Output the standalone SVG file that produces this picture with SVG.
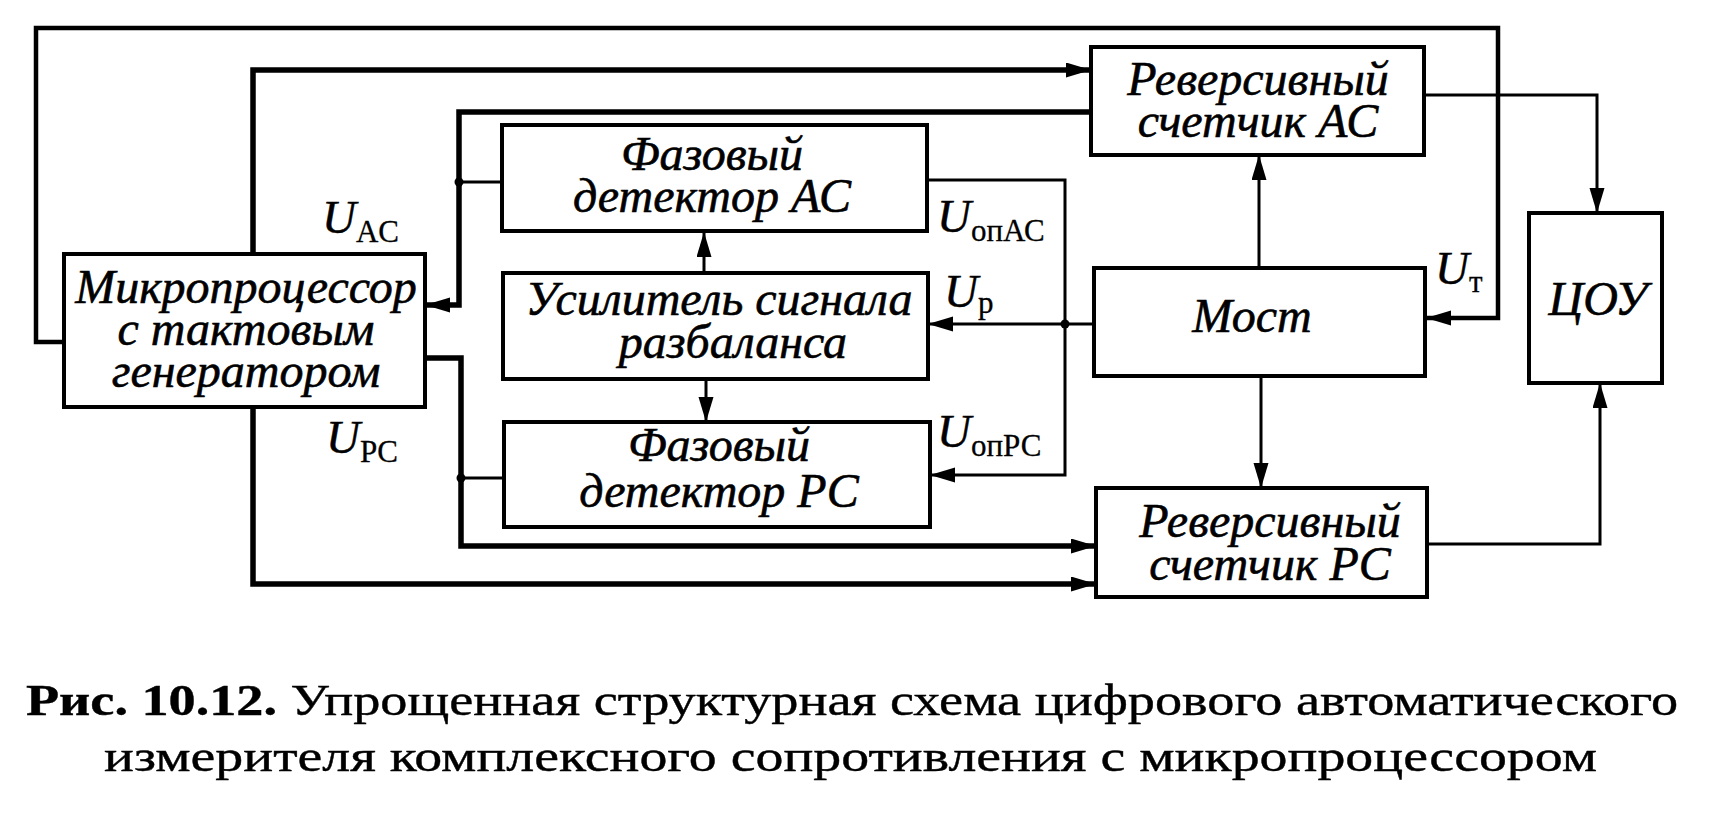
<svg xmlns="http://www.w3.org/2000/svg" width="1734" height="824" viewBox="0 0 1734 824">
<style>
  .box { fill: #fff; stroke: #000; stroke-width: 4; }
  text { font-family: "Liberation Serif", "Times New Roman", serif; fill: #000; }
  .lbl { font-style: italic; font-size: 48px; text-anchor: middle; stroke: #000; stroke-width: 0.6; }
  .u { font-style: italic; font-size: 47px; stroke: #000; stroke-width: 0.5; }
  .sub { font-style: normal; font-size: 31px; stroke-width: 0.3; }
  .cap { font-size: 45px; stroke: #000; stroke-width: 0.4; }
  .thin { fill: none; stroke: #000; stroke-width: 3; }
  .med { fill: none; stroke: #000; stroke-width: 4.5; }
  .thick { fill: none; stroke: #000; stroke-width: 5.5; }
  .arr { marker-end: url(#ah); }
</style>
<defs>
  <marker id="ah" markerUnits="userSpaceOnUse" markerWidth="27" markerHeight="16" refX="25" refY="7.5" orient="auto">
    <path d="M0,0 L25,7.5 L0,15 z" fill="#000"/>
  </marker>
</defs>
<rect width="1734" height="824" fill="#fff"/>
<g id="connectors">
  <polyline class="med arr" points="63,342 36,342 36,28 1498,28 1498,318 1426,318"/>
  <polyline class="thick arr" points="253,254 253,70 1091,70"/>
  <polyline class="thick arr" points="1091,112 459,112 459,305 425,305"/>
  <line class="thin" x1="502" y1="182" x2="459" y2="182"/>
  <polyline class="thick arr" points="425,358 461,358 461,546 1096,546"/>
  <line class="thin" x1="504" y1="478" x2="461" y2="478"/>
  <polyline class="thick arr" points="253,407 253,584 1096,584"/>
  <line class="thin arr" x1="704" y1="273" x2="704" y2="232"/>
  <line class="thin arr" x1="706" y1="379" x2="706" y2="422"/>
  <line class="thin arr" x1="1094" y1="324" x2="928" y2="324"/>
  <polyline class="thin arr" points="928,180 1065,180 1065,475 930,475"/>
  <line class="thin arr" x1="1259" y1="268" x2="1259" y2="155"/>
  <line class="thin arr" x1="1261" y1="376" x2="1261" y2="488"/>
  <polyline class="thin arr" points="1424,95 1597,95 1597,213"/>
  <polyline class="thin arr" points="1427,544 1600,544 1600,383"/>
  <circle cx="459" cy="182" r="4.5" fill="#000"/>
  <circle cx="461" cy="478" r="4.5" fill="#000"/>
  <circle cx="1065" cy="324" r="4.5" fill="#000"/>
</g>
<g id="mp">
  <rect class="box" x="64" y="254" width="361" height="153"/>
  <text class="lbl" x="246" y="303">Микропроцессор</text>
  <text class="lbl" x="246" y="345">с тактовым</text>
  <text class="lbl" x="246" y="387">генератором</text>
</g>
<g id="fd-ac">
  <rect class="box" x="502" y="125" width="425" height="106"/>
  <text class="lbl" x="712" y="170">Фазовый</text>
  <text class="lbl" x="712" y="212">детектор АС</text>
</g>
<g id="amp">
  <rect class="box" x="503" y="273" width="425" height="106"/>
  <text class="lbl" x="719" y="315">Усилитель сигнала</text>
  <text class="lbl" x="733" y="358">разбаланса</text>
</g>
<g id="fd-pc">
  <rect class="box" x="504" y="422" width="426" height="105"/>
  <text class="lbl" x="719" y="461">Фазовый</text>
  <text class="lbl" x="719" y="507">детектор РС</text>
</g>
<g id="rev-ac">
  <rect class="box" x="1091" y="47" width="333" height="108"/>
  <text class="lbl" x="1258" y="95">Реверсивный</text>
  <text class="lbl" x="1258" y="137">счетчик АС</text>
</g>
<g id="most">
  <rect class="box" x="1094" y="268" width="331" height="108"/>
  <text class="lbl" x="1252" y="332">Мост</text>
</g>
<g id="rev-pc">
  <rect class="box" x="1096" y="488" width="331" height="109"/>
  <text class="lbl" x="1270" y="537">Реверсивный</text>
  <text class="lbl" x="1270" y="580">счетчик РС</text>
</g>
<g id="cou">
  <rect class="box" x="1529" y="213" width="133" height="170"/>
  <text class="lbl" x="1598" y="315">ЦОУ</text>
</g>
<g id="labels">
  <text class="u" x="322" y="233">U<tspan class="sub" dy="9">AC</tspan></text>
  <text class="u" x="326" y="453">U<tspan class="sub" dy="9">PC</tspan></text>
  <text class="u" x="937" y="232">U<tspan class="sub" dy="9">опАС</tspan></text>
  <text class="u" x="944" y="307">U<tspan class="sub" dy="6">р</tspan></text>
  <text class="u" x="937" y="447">U<tspan class="sub" dy="9">опРС</tspan></text>
  <text class="u" x="1435" y="284">U<tspan class="sub" dy="8">т</tspan></text>
</g>
<g id="caption">
  <text class="cap" x="26" y="715" textLength="1652" lengthAdjust="spacingAndGlyphs"><tspan font-weight="bold">Рис. 10.12.</tspan> Упрощенная структурная схема цифрового автоматического</text>
  <text class="cap" x="104" y="771" textLength="1493" lengthAdjust="spacingAndGlyphs">измерителя комплексного сопротивления с микропроцессором</text>
</g>
</svg>
